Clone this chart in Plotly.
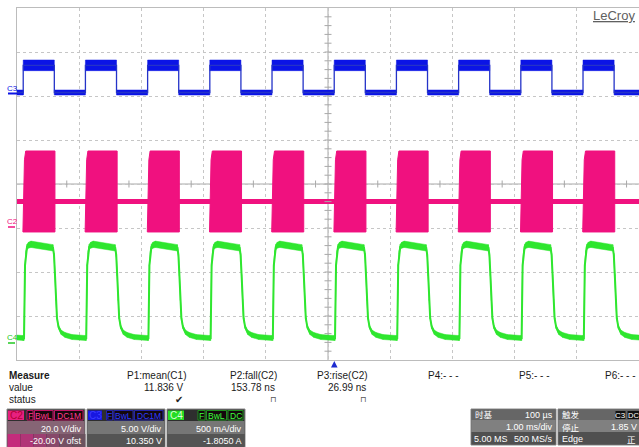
import plotly.graph_objects as go

# ---------------- acquisition ----------------
# 1.00 ms/div, 10 divisions, 8 vertical divisions
rise_ms = [0.1, 1.1, 2.1, 3.1, 4.1, 5.1, 6.1, 7.1, 8.1, 9.1]   # C3 rising edges
period_ms = 1.0

# channel (volts-or-amps per div, offset)
c2_scale, c2_offset = 20.0, -20.0
c3_scale, c3_offset = 5.0, 10.35
c4_scale, c4_offset = 0.5, -1.805

# C3 gate logic (V), times relative to each rising edge
c3_t = [0.0, 0.0, 0.5, 0.5, 1.0]
c3_v = [0.045, 3.135, 3.135, 0.045, 0.045]
c3_noise = [0.285, 0.605, 0.605, 0.285, 0.285]

# C2 switch node (V): idle level and switching burst envelope
c2_idle_v = 12.05
c2_idle_noise = 1.15
c2_burst_t = [-0.005, 0.008, 0.02, 0.04, 0.51, 0.51]
c2_burst_v = [-1.8, 20.0, 31.0, 35.0, 35.0, -1.8]

# C4 current (A), one period from the rising edge
c4_t = [0.0, 0.013, 0.029, 0.045, 0.061, 0.085, 0.125, 0.479, 0.495, 0.511,
        0.527, 0.543, 0.568, 0.608, 0.672, 0.785, 1.0]
c4_i = [0.055, 0.055, 0.88, 1.03, 1.09, 1.11, 1.12, 1.08, 1.0, 0.77,
        0.49, 0.28, 0.18, 0.12, 0.09, 0.066, 0.055]
c4_noise = [0.028, 0.028, 0.01, 0.02, 0.03, 0.034, 0.036, 0.036, 0.02, 0.01,
            0.01, 0.012, 0.02, 0.025, 0.028, 0.028, 0.028]

# measurement table
meas_labels = ["P1:mean(C1)", "P2:fall(C2)", "P3:rise(C2)", "P4:- - -", "P5:- - -", "P6:- - -"]
meas_values = ["11.836 V", "153.78 ns", "26.99 ns", "", "", ""]
meas_status = ["\u2714", "\u2293", "\u2293", "", "", ""]

BLUE = "#0b14e6"
PINK = "#f0117f"
GREEN = "#2fe62f"

W, H = 639, 447
L, T, R, B = 17, 8, 639, 360


def to_div(v, scale, offset):
    return (v + offset) / scale


def repeat(t_rel, y, h):
    starts = [rise_ms[0] - period_ms] + rise_ms
    xs, ys, hs = [], [], []
    for s in starts:
        for a, b, c in zip(t_rel, y, h):
            xs.append(s + a)
            ys.append(b)
            hs.append(c)
    return xs, ys, hs


def noise_band(xs, ys, hs, scale, offset):
    """Separate quads around each segment of the trace (vertical segments skipped)."""
    X, Y = [], []
    for i in range(len(xs) - 1):
        x0, x1 = xs[i], xs[i + 1]
        if x1 <= x0:
            continue
        y0, y1, h0, h1 = ys[i], ys[i + 1], hs[i], hs[i + 1]
        X += [x0, x1, x1, x0, x0, None]
        Y += [to_div(y0 + h0, scale, offset), to_div(y1 + h1, scale, offset),
              to_div(y1 - h1, scale, offset), to_div(y0 - h0, scale, offset),
              to_div(y0 + h0, scale, offset), None]
    return X, Y


fig = go.Figure()

# ---- C3 ----
x3, y3, h3 = repeat(c3_t, c3_v, c3_noise)
bx, by = noise_band(x3, y3, h3, c3_scale, c3_offset)
fig.add_trace(go.Scatter(x=bx, y=by, fill="toself", fillcolor=BLUE, mode="lines",
                         line=dict(width=0.5, color=BLUE), hoverinfo="skip"))
fig.add_trace(go.Scatter(x=x3, y=[to_div(v, c3_scale, c3_offset) for v in y3], mode="lines",
                         line=dict(color="#2433c8", width=1.3), hoverinfo="skip"))

# ---- C2 ----
fig.add_trace(go.Scatter(
    x=[0, 10, 10, 0, 0],
    y=[to_div(c2_idle_v + c2_idle_noise, c2_scale, c2_offset)] * 2
      + [to_div(c2_idle_v - c2_idle_noise, c2_scale, c2_offset)] * 2
      + [to_div(c2_idle_v + c2_idle_noise, c2_scale, c2_offset)],
    fill="toself", fillcolor=PINK, mode="lines", line=dict(width=0), hoverinfo="skip"))
px_, py_ = [], []
for s in rise_ms:
    px_ += [s + t for t in c2_burst_t] + [s + c2_burst_t[0], None]
    py_ += [to_div(v, c2_scale, c2_offset) for v in c2_burst_v] + [to_div(c2_burst_v[0], c2_scale, c2_offset), None]
fig.add_trace(go.Scatter(x=px_, y=py_, fill="toself", fillcolor=PINK, mode="lines",
                         line=dict(color=PINK, width=1), hoverinfo="skip"))

# ---- C4 ----
x4, y4, h4 = repeat(c4_t, c4_i, c4_noise)
bx, by = noise_band(x4, y4, h4, c4_scale, c4_offset)
fig.add_trace(go.Scatter(x=bx, y=by, fill="toself", fillcolor=GREEN, mode="lines",
                         line=dict(width=0.5, color=GREEN), hoverinfo="skip"))
fig.add_trace(go.Scatter(x=x4, y=[to_div(v, c4_scale, c4_offset) for v in y4], mode="lines",
                         line=dict(color=GREEN, width=2), hoverinfo="skip"))

# ---- center-line tick marks ----
fig.add_trace(go.Scatter(x=[5] * 39, y=[-3.8 + 0.2 * k for k in range(39)], mode="markers",
                         marker=dict(symbol="line-ew", size=5, line=dict(color="#a8a8a8", width=1)),
                         hoverinfo="skip"))
fig.add_trace(go.Scatter(x=[k + 0.8 for k in range(10)], y=[0] * 10, mode="markers",
                         marker=dict(symbol="line-ns", size=5, line=dict(color="#a8a8a8", width=1)),
                         hoverinfo="skip"))


def fx(x):
    return (x - L) / (R - L)


def fy(y):
    return (B - y) / (B - T)


shapes = [
    dict(type="line", xref="x", yref="y", x0=5, x1=5, y0=-4, y1=4,
         line=dict(color="#a8a8a8", width=1), layer="below"),
    dict(type="line", xref="x", yref="y", x0=0, x1=10, y0=0, y1=0,
         line=dict(color="#a8a8a8", width=1), layer="below"),
]


def rect(x0, y0, x1, y1, fill, line=None, lw=1):
    shapes.append(dict(type="rect", xref="paper", yref="paper",
                       x0=fx(x0), x1=fx(x1), y0=fy(y1), y1=fy(y0),
                       fillcolor=fill, line=dict(color=line or fill, width=lw if line else 0),
                       layer="above"))


def hline(x0, x1, y, color, w):
    shapes.append(dict(type="line", xref="paper", yref="paper", x0=fx(x0), x1=fx(x1),
                       y0=fy(y), y1=fy(y), line=dict(color=color, width=w)))


anns = []


def text(x, y, s, anchor="left", size=10, color="#1a1a1a", family="Liberation Sans, Arial, sans-serif"):
    anns.append(dict(xref="paper", yref="paper", x=fx(x), y=fy(y), text=s, showarrow=False,
                     xanchor=anchor, yanchor="middle", borderpad=0,
                     font=dict(size=size, color=color, family=family)))


# channel ground markers
text(6, 88, "C3", size=8, color=BLUE)
hline(8, 17, 93.5, BLUE, 2)
text(6, 221.5, "C2", size=8, color=PINK)
hline(8, 15, 227, PINK, 1.5)
text(6, 337.5, "C4", size=8, color="#22c822")
hline(8, 15, 343, "#22c822", 1.5)

# LeCroy mark
text(636, 16, "<u>LeCroy</u>", anchor="right", size=13, color="#606060")

# trigger position marker
shapes.append(dict(type="path", xref="paper", yref="paper",
                   path="M {} {} L {} {} L {} {} Z".format(fx(331), fy(367.5), fx(334.3), fy(361), fx(337.6), fy(367.5)),
                   fillcolor="#1d2bd0", line=dict(width=0)))

# measurement table
text(8, 375, "<b>Measure</b>")
text(8, 387, "value")
text(8, 399, "status")
col_right = [187, 278, 369, 460, 551, 637]
status_x = [179, 273, 363]
for i, lab in enumerate(meas_labels):
    text(col_right[i], 375, lab, anchor="right")
    if meas_values[i]:
        text(col_right[i] - 2, 387, meas_values[i], anchor="right")
    if meas_status[i]:
        text(status_x[i], 400, meas_status[i], anchor="center",
             size=10 if i == 0 else 8, color="#222" if i == 0 else "#555",
             family="DejaVu Sans")

# channel descriptor boxes
boxes = [
    # x0, label, chip color, chip text, tag text color, tag border, line1, line2
    (7, "C2", "#e8207f", "#b00035", "#ff3a8e", "#c01565", "20.0 V/div", "-20.00 V ofst"),
    (87, "C3", "#1717e0", "#3b3bff", "#2b3cff", "#2424a8", "5.00 V/div", "10.350 V"),
    (167, "C4", "#24dc24", "#d8ffd8", "#3cff3c", "#1f8f1f", "500 mA/div", "-1.8050 A"),
]
tags = {"C2": [("F", 27, 33), ("BwL", 34.5, 53), ("DC1M", 54.5, 83)],
        "C3": [("F", 106.5, 112.5), ("BwL", 114, 133), ("DC1M", 134.5, 163)],
        "C4": [("F", 198, 205), ("BwL", 206.5, 226.5), ("DC", 228, 243)]}
for x0, lab, chip, chip_txt, tag_txt, tag_line, l1, l2 in boxes:
    x1 = x0 + 78
    rect(x0, 409, x1, 447, "#2e2e2e", "#8a8a8a")
    if lab == "C2":
        rect(x0 + 0.5, 421, x1 - 0.5, 434, "#866575")
        for j, c in enumerate(["#c42c7c", "#b13577", "#9c3f71", "#87486a", "#755063", "#6a525e"]):
            rect(x0 + 0.5 + j * 13, 434, x0 + 0.5 + (j + 1) * 13, 447, c)
    else:
        rect(x0 + 0.5, 421, x1 - 0.5, 434, "#767676")
        rect(x0 + 0.5, 434, x1 - 0.5, 447, "#545454")
    cw = 17 if lab != "C3" else 15
    rect(x0 + 1, 410.5, x0 + cw, 420, chip)
    text(x0 + 1 + (cw - 1) / 2, 415.5, lab, anchor="center", size=10, color=chip_txt)
    for t, a, b in tags[lab]:
        rect(a, 410.5, b, 420, "#14080c", tag_line)
        text((a + b) / 2, 415.5, t, anchor="center", size=8.5, color=tag_txt)
    text(x1 - 2, 428.5, l1, anchor="right", size=9, color="white")
    text(x1 - 2, 440.5, l2, anchor="right", size=9, color="white")

CJK = "Noto Sans CJK SC, sans-serif"
# timebase box
rect(471, 409, 556, 445, "#5a5a5a", "#8a8a8a")
rect(471.5, 409.5, 555.5, 420, "#666666")
rect(471.5, 420, 555.5, 432, "#808080")
rect(471.5, 432, 555.5, 444.5, "#505050")
text(474, 414, "时基", size=8.5, color="white", family=CJK)
text(554, 414.5, "100 µs", anchor="right", size=9, color="white")
text(554, 426.5, "1.00 ms/div", anchor="right", size=9, color="white")
text(473, 438.5, "5.00 MS", size=9, color="white")
text(554, 438.5, "500 MS/s", anchor="right", size=9, color="white")

# trigger box
rect(558, 409, 645, 445, "#5a5a5a", "#8a8a8a")
rect(558.5, 409.5, 645, 420, "#666666")
rect(558.5, 420, 645, 432, "#808080")
rect(558.5, 432, 645, 444.5, "#505050")
text(561, 414, "触发", size=8.5, color="white", family=CJK)
rect(615, 410.5, 626, 419.5, "#111111", "#666")
text(620.5, 415, "C3", anchor="center", size=8, color="white")
rect(627, 410.5, 645, 419.5, "#111111", "#666")
text(633, 415, "DC", anchor="center", size=7.5, color="white")
text(561, 427, "停止", size=8.5, color="white", family=CJK)
text(638, 426.5, "1.85 V", anchor="right", size=9, color="white")
text(561, 438.5, "Edge", size=9, color="white")
text(637, 439, "正", anchor="right", size=8.5, color="white", family=CJK)

axis = dict(showticklabels=False, ticks="", showgrid=True, gridcolor="#c6c6c6",
            griddash="dot", gridwidth=1, zeroline=False, showline=True, mirror=True,
            linecolor="#bcbcbc", linewidth=1, fixedrange=True)
fig.update_layout(
    width=W, height=H,
    margin=dict(l=L, r=W - R, t=T, b=H - B),
    paper_bgcolor="white", plot_bgcolor="white",
    showlegend=False,
    xaxis=dict(range=[0, 10], dtick=1, tick0=0, **axis),
    yaxis=dict(range=[-4, 4], dtick=1, tick0=0, **axis),
    shapes=shapes, annotations=anns,
)

fig.write_html("out.html")
